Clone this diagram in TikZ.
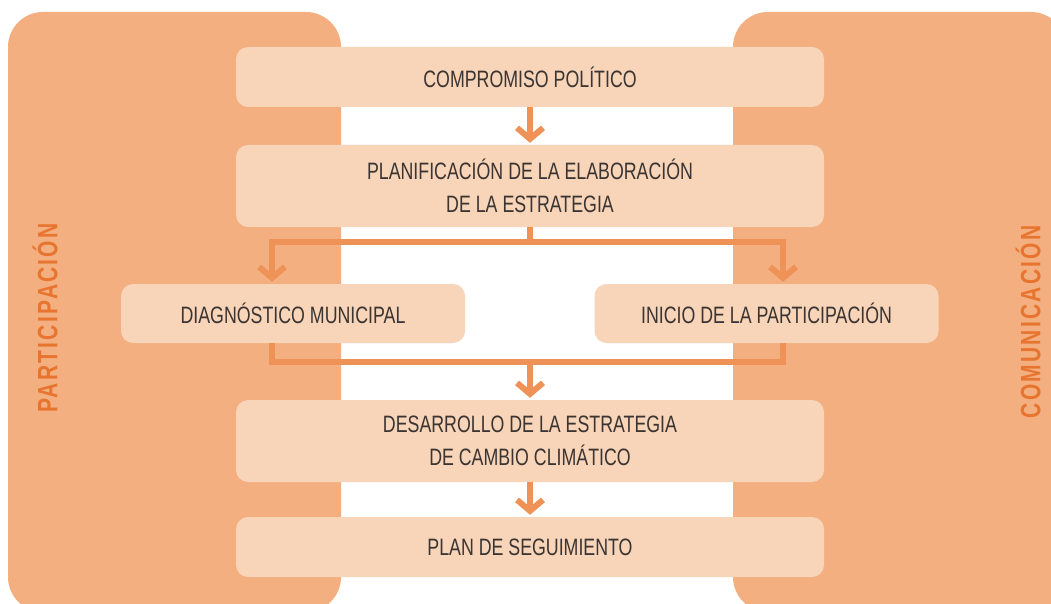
\documentclass[tikz,border=0pt]{standalone}
\usepackage{fontspec}
\setmainfont{Liberation Sans}[FakeStretch=0.75]
\newfontfamily\sidefont{Liberation Sans}[FakeStretch=0.75,LetterSpace=8,FakeBold=0]
\usetikzlibrary{arrows.meta}
\definecolor{panelc}{HTML}{F3AF80}
\definecolor{boxc}{HTML}{F8D4B8}
\definecolor{arrc}{HTML}{EF9257}
\definecolor{labc}{HTML}{E8752F}
\definecolor{txtc}{HTML}{3A3432}
\tikzset{
  panel/.style={fill=panelc, rounded corners=35pt},
  stepbox/.style={fill=boxc, rounded corners=12pt, inner sep=0pt, align=center,
    text=txtc, font={\fontsize{23.7}{33}\selectfont}},
  wide/.style={stepbox, minimum width=588pt},
  half/.style={stepbox, minimum width=344pt, minimum height=59pt},
  conn/.style={draw=arrc, line width=6pt},
  arr/.style={conn, -{Straight Barb[length=11pt,width=26pt]}, shorten >=2pt},
  sidelabel/.style={text=labc, rotate=90, inner sep=0pt,
    font={\sidefont\bfseries\fontsize{28}{30}\selectfont}}
}
\begin{document}
\begin{tikzpicture}[x=1pt,y=-1pt]
\useasboundingbox (0,0) rectangle (1051,604);
\clip (0,0) rectangle (1051,604);
\fill[white] (0,0) rectangle (1051,604);
% side panels
\fill[panel] (8,12) rectangle (341,612);
\fill[panel] (733,12) rectangle (1066,612);
\node[sidelabel] (part) at (45,318) {PARTICIPACIÓN};
\node[sidelabel] (comu) at (1028,322) {COMUNICACIÓN};
% boxes
\node[wide, minimum height=60pt] (b1) at (530,77) {COMPROMISO POLÍTICO};
\node[wide, minimum height=82pt] (b2) at (530,186) {PLANIFICACIÓN DE LA ELABORACIÓN\\DE LA ESTRATEGIA};
\node[half] (b3) at (293,313.5) {DIAGNÓSTICO MUNICIPAL};
\node[half] (b4) at (766.5,313.5) {INICIO DE LA PARTICIPACIÓN};
\node[wide, minimum height=82pt] (b5) at (530,441) {DESARROLLO DE LA ESTRATEGIA\\DE CAMBIO CLIMÁTICO};
\node[wide, minimum height=60pt] (b6) at (530,547) {PLAN DE SEGUIMIENTO};
% helper coordinates
\coordinate (s1) at (530,242);
\coordinate (l1) at (272,0);
\coordinate (r1) at (783,0);
\coordinate (m1) at (530,362);
% connectors
\draw[arr] (b1) -- (b2);
\draw[conn] (b2.south) -- (s1);
\draw[arr] (s1) -| (b3.north -| l1);
\draw[arr] (s1) -| (b4.north -| r1);
\draw[conn] (b3.south -| l1) |- (m1) -| (b4.south -| r1);
\draw[arr] (m1) -- (b5);
\draw[arr] (b5) -- (b6);
\end{tikzpicture}
\end{document}
